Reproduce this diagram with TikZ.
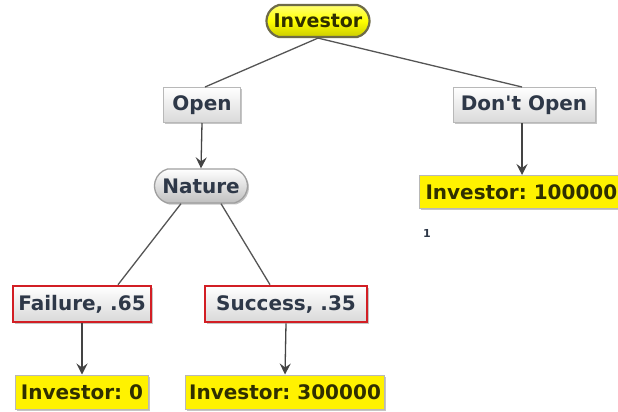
\documentclass[tikz,border=0pt]{standalone}
\usepackage{fontspec}
\setmainfont{DejaVu Sans}
\usetikzlibrary{arrows.meta,shadows,shapes.misc}
\definecolor{boxline}{HTML}{B8B8B8}
\definecolor{inktext}{HTML}{2E3848}
\definecolor{olivetext}{HTML}{2F2F00}
\definecolor{redline}{HTML}{D21E24}
\definecolor{wire}{HTML}{555555}
\tikzset{
  lbl/.style={font=\fontsize{20}{24}\selectfont\bfseries\frenchspacing, inner sep=0pt, align=center},
  graybox/.style={lbl, text=inktext, draw=boxline, line width=1pt,
    top color=white, bottom color=gray!30,
    drop shadow={shadow xshift=1.5pt, shadow yshift=-1.5pt, opacity=0.45, fill=gray}},
  chancebox/.style={graybox, draw=redline, line width=2.6pt},
  payoff/.style={lbl, text=olivetext, fill=yellow, draw=boxline, line width=1pt,
    drop shadow={shadow xshift=1.5pt, shadow yshift=-1.5pt, opacity=0.45, fill=gray}},
  decision/.style={lbl, font=\fontsize{19}{22}\selectfont\bfseries, text=olivetext,
    rounded rectangle, rounded rectangle arc length=150, inner xsep=2pt, draw=yellow!35!black, line width=2.2pt,
    top color=yellow!55!white, bottom color=yellow!80!black, middle color=yellow},
  pill/.style={graybox, rounded rectangle, rounded rectangle arc length=150, draw=gray!75, line width=1.3pt,
    top color=white, bottom color=gray!50},
  link/.style={draw=wire, line width=1.3pt},
  flow/.style={link, draw=wire!80!black, -{Stealth[length=11pt,width=11pt,inset=4pt]}},
}
\begin{document}
\begin{tikzpicture}[x=1pt,y=-1pt]
  \clip (0,0) rectangle (618,412);
  \fill[white] (0,0) rectangle (618,412);

  % decision and chance nodes
  \node[decision, minimum width=107, minimum height=32] (inv) at (318,21) {Investor};
  \node[graybox, minimum width=77, minimum height=35] (open) at (202,105) {Open};
  \node[graybox, minimum width=142, minimum height=35] (dont) at (524,105) {Don\textquotesingle t Open};
  \node[pill, minimum width=93, minimum height=34] (nat) at (201,186) {Nature};
  \node[chancebox, minimum width=138, minimum height=36] (fail) at (82,304) {Failure, .65};
  \node[chancebox, minimum width=162, minimum height=36] (succ) at (286,304) {Success, .35};

  % payoffs
  \node[payoff, anchor=west, minimum height=33, inner xsep=6pt] (pdont) at (419,192) {Investor: 100000};
  \node[payoff, minimum width=133, minimum height=34] (pfail) at (82,392) {Investor: 0};
  \node[payoff, minimum width=199, minimum height=34] (psucc) at (285,392) {Investor: 300000};
  \node[font=\fontsize{11}{13}\selectfont\bfseries, text=inktext, inner sep=0pt] (note) at (427,233) {1};

  % connectors
  \draw[link] (inv.south) -- ([xshift=3]open.north);
  \draw[link] (inv.south) -- ([xshift=-2]dont.north);
  \draw[flow] (open.south) -- (nat.north);
  \coordinate (dtop) at (522,175);
  \draw[flow] ([xshift=-2]dont.south) -- (dtop);
  \draw[link] ([xshift=-20]nat.south) -- ([xshift=36]fail.north);
  \draw[link] ([xshift=20]nat.south) -- ([xshift=-16]succ.north);
  \draw[flow] (fail.south) -- (pfail.north);
  \draw[flow] (succ.south) -- (psucc.north);
\end{tikzpicture}
\end{document}
